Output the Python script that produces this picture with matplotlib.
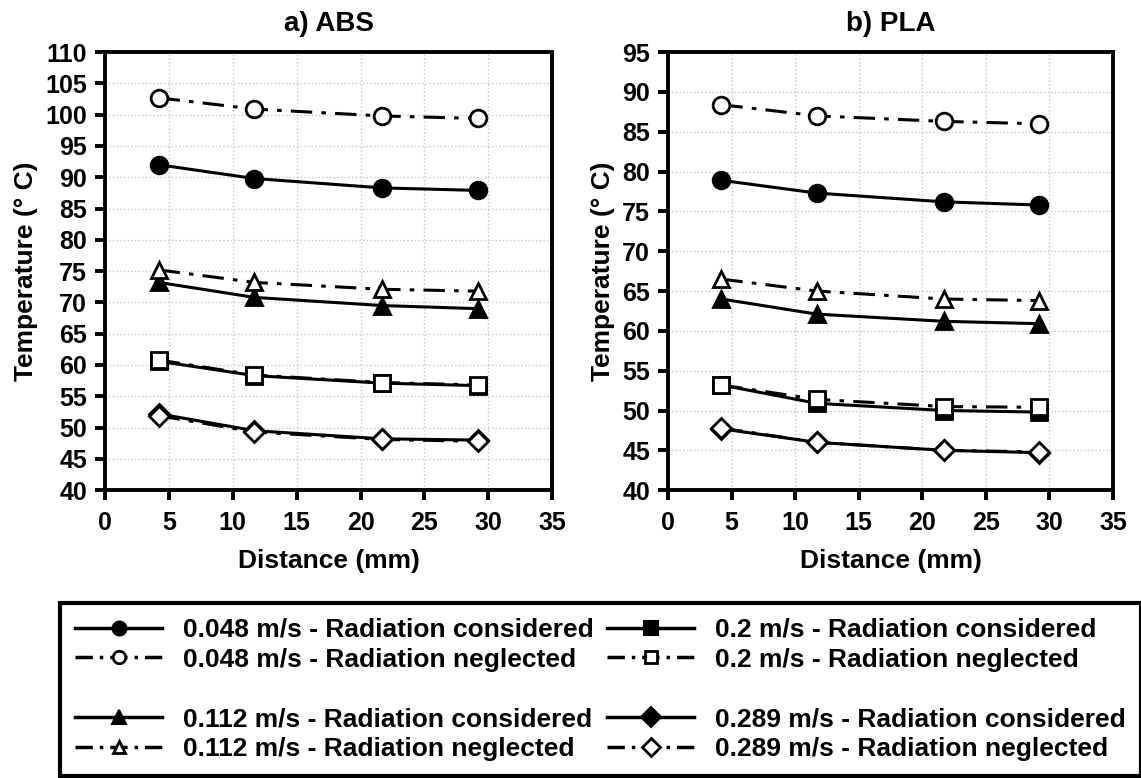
import matplotlib
matplotlib.use('Agg')
import matplotlib.pyplot as plt
from matplotlib.lines import Line2D

plt.rcParams['font.family'] = ['Liberation Sans', 'DejaVu Sans']
plt.rcParams['font.weight'] = 'bold'

# distance along the part (mm)
distance = [4.2, 11.7, 21.7, 29.2]

# ABS temperatures (deg C)
abs_048_rad = [92.0, 89.8, 88.3, 87.9]
abs_048_norad = [102.7, 100.9, 99.8, 99.4]
abs_112_rad = [73.2, 70.8, 69.5, 69.0]
abs_112_norad = [75.2, 73.2, 72.1, 71.8]
abs_2_rad = [60.6, 58.3, 57.1, 56.7]
abs_2_norad = [60.8, 58.4, 57.2, 56.8]
abs_289_rad = [52.2, 49.5, 48.2, 48.0]
abs_289_norad = [51.9, 49.3, 48.1, 47.8]

# PLA temperatures (deg C)
pla_048_rad = [78.9, 77.3, 76.2, 75.8]
pla_048_norad = [88.4, 87.0, 86.3, 86.0]
pla_112_rad = [64.0, 62.1, 61.2, 60.9]
pla_112_norad = [66.5, 65.0, 64.0, 63.8]
pla_2_rad = [53.2, 50.9, 50.0, 49.8]
pla_2_norad = [53.2, 51.4, 50.5, 50.4]
pla_289_rad = [47.7, 46.0, 45.0, 44.7]
pla_289_norad = [47.8, 46.0, 45.0, 44.8]

speeds = ['0.048', '0.112', '0.2', '0.289']
markers = ['o', '^', 's', 'D']
msizes = [12, 12, 11, 10]
dashdot = (0, (7, 3, 1.5, 3))


def draw(ax, rad, norad):
    for i in range(4):
        ax.plot(distance, rad[i], color='black', lw=2.2, marker=markers[i],
                ms=msizes[i], mfc='black', mec='black', mew=2, zorder=3)
    for i in range(4):
        ax.plot(distance, norad[i], color='black', lw=2.2, ls=dashdot, marker=markers[i],
                ms=msizes[i], mfc='white', mec='black', mew=2, zorder=4)


def style(ax, ymin, ymax, title):
    ax.set_xlim(0, 35)
    ax.set_ylim(ymin, ymax)
    ax.set_xticks(range(0, 36, 5))
    ax.set_yticks(range(ymin, ymax + 1, 5))
    ax.grid(True, color='#c8c8c8', ls=':', lw=1)
    ax.set_axisbelow(True)
    for s in ax.spines.values():
        s.set_linewidth(2.8)
    ax.tick_params(direction='out', length=7, width=2.8, labelsize=18)
    ax.tick_params(axis='x', pad=8)
    ax.tick_params(axis='y', pad=6)
    for lab in ax.get_xticklabels() + ax.get_yticklabels():
        lab.set_fontweight('bold')
    ax.set_xlabel('Distance (mm)', fontsize=19, fontweight='bold', labelpad=10)
    ax.set_ylabel('Temperature (° C)', fontsize=19, fontweight='bold', labelpad=5)
    ax.set_title(title, fontsize=20, fontweight='bold', pad=15)


fig = plt.figure(figsize=(11.41, 7.78), dpi=100)
ax1 = fig.add_axes([0.092, 0.370, 0.392, 0.563])
ax2 = fig.add_axes([0.5855, 0.370, 0.390, 0.563])

draw(ax1, [abs_048_rad, abs_112_rad, abs_2_rad, abs_289_rad],
     [abs_048_norad, abs_112_norad, abs_2_norad, abs_289_norad])
draw(ax2, [pla_048_rad, pla_112_rad, pla_2_rad, pla_289_rad],
     [pla_048_norad, pla_112_norad, pla_2_norad, pla_289_norad])
style(ax1, 40, 110, 'a) ABS')
style(ax2, 40, 95, 'b) PLA')

# legend: two columns with an empty row in the middle
handles, labels = [], []
blank = Line2D([], [], color='none')
for col in [(0, 1), (2, 3)]:
    for n, i in enumerate(col):
        if n == 1:
            handles.append(blank)
            labels.append(' ')
        handles.append(Line2D([], [], color='black', lw=2.5, marker=markers[i], ms=10,
                              mfc='black', mec='black', mew=1.5))
        labels.append(speeds[i] + ' m/s - Radiation considered')
        handles.append(Line2D([], [], color='black', lw=2.5, ls=(0, (5, 2, 1, 2)),
                              marker=markers[i], ms=9, mfc='white', mec='black', mew=2))
        labels.append(speeds[i] + ' m/s - Radiation neglected')

leg = fig.legend(handles, labels, ncol=2, loc='lower left',
                 bbox_to_anchor=(0.053, 0.003), frameon=True, fancybox=False,
                 edgecolor='black', framealpha=1, handlelength=3.3,
                 handletextpad=0.8, columnspacing=0.5, labelspacing=0.22,
                 borderpad=0.55, borderaxespad=0,
                 prop={'weight': 'bold', 'size': 19})
leg.get_frame().set_linewidth(3)

fig.savefig('out.png', dpi=100)
